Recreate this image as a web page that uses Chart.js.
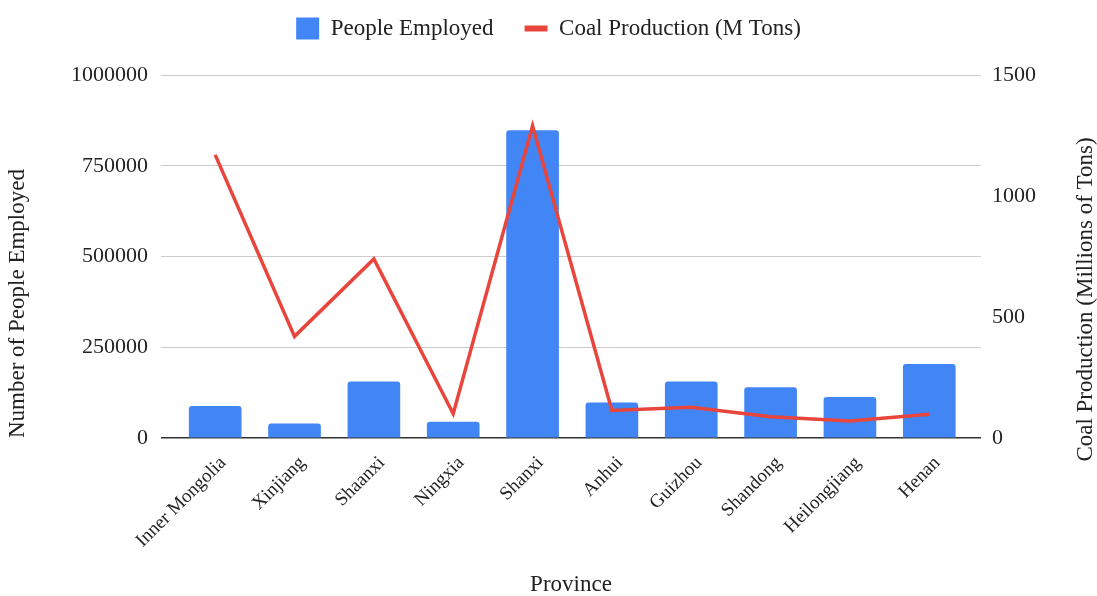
<!DOCTYPE html>
<html>
<head>
<meta charset="utf-8">
<title>Coal employment by province</title>
<script src="https://cdn.jsdelivr.net/npm/chart.js@4/dist/chart.umd.min.js"></script>
<style>
    body { margin: 0; background: #fff; }
    #wrap { width: 1097px; height: 596px; }
</style>
</head>
<body>
<div id="wrap"><canvas id="coal-chart" width="1097" height="596"></canvas></div>
<script>
// Provinces on the x axis
const provinces = ['Inner Mongolia', 'Xinjiang', 'Shaanxi', 'Ningxia', 'Shanxi',
    'Anhui', 'Guizhou', 'Shandong', 'Heilongjiang', 'Henan'];

// Bars: number of people employed
const peopleEmployed = [87000, 39000, 155000, 44000, 847000, 97000, 155000, 139000, 112000, 203000];

// Line: coal production, millions of tons
const coalProduction = [1170, 420, 740, 100, 1290, 114, 127, 88, 70, 98];

// Axis ticks
const employedTicks = [0, 250000, 500000, 750000, 1000000];
const productionTicks = [0, 500, 1000, 1500];

const FONT = "'Liberation Serif', 'Times New Roman', serif";
const TEXT = '#222';
const BLUE = '#4285f4';
const RED = '#e8453c';

// Legend is shorter than its padding wants; pin its height so the plot starts lower
const legendHeight = {
    id: 'legendHeight',
    beforeLayout(chart) {
        const legend = chart.legend;
        if (!legend || legend._pinned) return;
        const fit = legend.fit;
        legend.fit = function () {
            fit.call(this);
            this.height = 89;
        };
        legend._pinned = true;
    }
};

// Right axis title reads bottom-to-top, Chart.js draws it the other way round
const rightTitle = {
    id: 'rightTitle',
    afterDraw(chart) {
        const ctx = chart.ctx;
        const area = chart.chartArea;
        ctx.save();
        ctx.translate(1086, (area.top + area.bottom) / 2 + 43);
        ctx.rotate(-Math.PI / 2);
        ctx.font = `23px ${FONT}`;
        ctx.fillStyle = TEXT;
        ctx.textAlign = 'center';
        ctx.textBaseline = 'middle';
        ctx.fillText('Coal Production (Millions of Tons)', 0, 0);
        ctx.restore();
    }
};

const ctx = document.getElementById('coal-chart');

new Chart(ctx, {
    data: {
        datasets: [{
            type: 'bar',
            label: 'People Employed',
            data: provinces.map((p, i) => ({ x: i, y: peopleEmployed[i] })),
            backgroundColor: BLUE,
            borderWidth: 0,
            borderRadius: 3,
            barThickness: 52,
            yAxisID: 'y',
            pointStyle: 'rect',
            order: 2
        }, {
            type: 'line',
            label: 'Coal Production (M Tons)',
            data: provinces.map((p, i) => ({ x: i, y: coalProduction[i] })),
            borderColor: RED,
            backgroundColor: RED,
            borderWidth: 3.5,
            borderJoinStyle: 'miter',
            pointRadius: 0,
            tension: 0,
            yAxisID: 'y1',
            pointStyle: 'line',
            order: 1
        }]
    },
    options: {
        responsive: false,
        animation: false,
        layout: {
            padding: { top: -14, left: 0, right: 0, bottom: 0 }
        },
        plugins: {
            legend: {
                position: 'top',
                labels: {
                    usePointStyle: true,
                    pointStyleWidth: 23,
                    boxHeight: 22,
                    padding: 31,
                    color: TEXT,
                    font: { family: FONT, size: 23 },
                    sort: (a, b) => a.datasetIndex - b.datasetIndex,
                    generateLabels(chart) {
                        const items = Chart.defaults.plugins.legend.labels.generateLabels(chart);
                        items.forEach(item => {
                            if (item.pointStyle === 'line') item.lineWidth = 6;
                        });
                        return items;
                    }
                }
            },
            tooltip: { enabled: false }
        },
        scales: {
            x: {
                type: 'linear',
                offset: false,
                min: -0.683,
                max: 9.652,
                afterBuildTicks(scale) {
                    scale.ticks = provinces.map((p, i) => ({ value: i }));
                },
                afterFit(scale) {
                    scale.height = 158;
                },
                grid: { display: false, offset: false },
                border: { display: false },
                ticks: {
                    autoSkip: false,
                    minRotation: 45,
                    maxRotation: 45,
                    padding: 6,
                    labelOffset: 8,
                    color: TEXT,
                    font: { family: FONT, size: 19 },
                    callback: value => provinces[value]
                },
                title: {
                    display: true,
                    text: 'Province',
                    color: TEXT,
                    font: { family: FONT, size: 23, lineHeight: 1 },
                    padding: { top: 0, bottom: 0 }
                }
            },
            y: {
                position: 'left',
                min: 0,
                max: 1000000,
                afterBuildTicks(scale) {
                    scale.ticks = employedTicks.map(v => ({ value: v }));
                },
                afterFit(scale) {
                    scale.width = 161;
                },
                grid: {
                    color: c => (c.tick && c.tick.value === 0 ? '#333' : '#ccc'),
                    lineWidth: c => (c.tick && c.tick.value === 0 ? 1.5 : 1),
                    drawTicks: false
                },
                border: { display: false },
                ticks: {
                    padding: 13,
                    color: TEXT,
                    font: { family: FONT, size: 22 },
                    callback: value => String(value)
                },
                title: {
                    display: true,
                    text: 'Number of People Employed',
                    align: 'start',
                    color: TEXT,
                    font: { family: FONT, size: 23 },
                    padding: { top: 4, bottom: 4 }
                }
            },
            y1: {
                position: 'right',
                min: 0,
                max: 1500,
                afterBuildTicks(scale) {
                    scale.ticks = productionTicks.map(v => ({ value: v }));
                },
                afterFit(scale) {
                    scale.width = 116;
                },
                grid: { drawOnChartArea: false, drawTicks: false },
                border: { display: false },
                ticks: {
                    padding: 11,
                    color: TEXT,
                    font: { family: FONT, size: 22 },
                    callback: value => String(value)
                }
            }
        }
    },
    plugins: [legendHeight, rightTitle]
});
</script>
</body>
</html>
